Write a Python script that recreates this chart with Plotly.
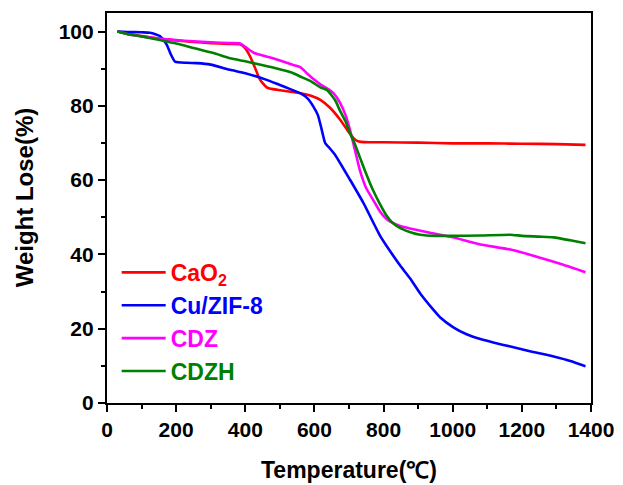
import plotly.graph_objects as go

# ---- data ----
cao2_T = [30, 60, 100, 150, 200, 250, 300, 350, 385, 400, 414, 430, 443, 462, 480, 501, 530, 559, 590, 617, 645, 675, 695, 713, 725, 735, 760, 800, 900, 1000, 1100, 1200, 1300, 1384]
cao2_W = [100, 99.4, 98.8, 98.1, 97.6, 97.2, 96.9, 96.7, 96.6, 95.5, 93.3, 89.8, 87, 85, 84.5, 84.2, 83.8, 83.4, 82.7, 81.6, 79.5, 76.2, 73.5, 71.3, 70.5, 70.3, 70.2, 70.2, 70.1, 69.9, 69.9, 69.8, 69.7, 69.5]

cuzif_T = [30, 60, 100, 124, 140, 153, 163, 173, 185, 197, 230, 260, 300, 356, 400, 462, 500, 530, 559, 580, 597, 610, 620, 631, 645, 660, 703, 742, 790, 829, 848, 877, 906, 945, 964, 1003, 1040, 1080, 1120, 1167, 1220, 1292, 1340, 1384]
cuzif_W = [100, 99.9, 99.8, 99.7, 99.3, 98.8, 97.8, 96.4, 93.8, 91.9, 91.6, 91.5, 91.1, 89.7, 88.8, 87, 85.6, 84.5, 83.4, 82, 79.8, 77.5, 74, 70, 68.5, 66.8, 60.1, 53.8, 45, 39.5, 37, 33.5, 29.5, 25, 23, 20.3, 18.5, 17.2, 16.2, 15.2, 14.0, 12.5, 11.3, 9.9]

cdz_T = [30, 60, 100, 150, 200, 250, 300, 356, 385, 424, 480, 539, 559, 578, 600, 617, 640, 655, 675, 690, 703, 718, 732, 750, 771, 790, 809, 819, 850, 900, 935, 964, 1000, 1080, 1167, 1250, 1320, 1384]
cdz_W = [100, 99.3, 98.7, 98.1, 97.7, 97.4, 97.1, 96.9, 96.8, 94.3, 92.8, 91, 90.4, 88.8, 87, 85.8, 84.5, 83.4, 80.7, 77.5, 73.5, 67.8, 62.5, 57.8, 54.5, 51.5, 49.5, 48.8, 47.6, 46.5, 45.8, 45.3, 44.6, 42.7, 41.3, 39.2, 37.2, 35.2]

cdzh_T = [30, 60, 100, 138, 173, 200, 250, 308, 356, 400, 424, 480, 539, 559, 590, 617, 636, 660, 675, 690, 703, 718, 732, 745, 758, 771, 790, 809, 825, 850, 880, 906, 950, 1000, 1080, 1167, 1200, 1250, 1292, 1340, 1384]
cdzh_W = [100, 99.3, 98.7, 98.0, 97.3, 96.8, 95.6, 94.2, 92.8, 92.0, 91.5, 90.3, 88.8, 87.9, 86.6, 85, 84.3, 81.5, 78.5, 75.8, 72.7, 69.5, 66.0, 62.8, 59.8, 57.0, 53.5, 50.4, 48.6, 47.0, 45.9, 45.3, 45.0, 45.0, 45.1, 45.3, 45.0, 44.8, 44.6, 43.8, 43]

series = [
    ("CaO<sub>2</sub>", cao2_T, cao2_W, "#FF0000"),
    ("Cu/ZIF-8", cuzif_T, cuzif_W, "#0000FF"),
    ("CDZ", cdz_T, cdz_W, "#FF00FF"),
    ("CDZH", cdzh_T, cdzh_W, "#008000"),
]

x_ticks = [0, 200, 400, 600, 800, 1000, 1200, 1400]
y_ticks = [0, 20, 40, 60, 80, 100]

FONT = "Liberation Sans, Arial, sans-serif"

fig = go.Figure()
for i, (name, T, W, col) in enumerate(series):
    fig.add_trace(go.Scatter(
        x=T, y=W, mode="lines",
        name=f"<b><span style='color:{col}'>{name}</span></b>",
        legendgroup=f"g{i}",
        line=dict(color=col, width=2.6, shape="spline", smoothing=0.5),
    ))

axis_common = dict(
    showline=True, linecolor="black", linewidth=2.2, mirror=True,
    ticks="outside", tickcolor="black", tickwidth=2, ticklen=7,
    showgrid=False, zeroline=False, automargin=False,
    tickfont=dict(family=FONT, size=21, color="black"),
)

fig.update_layout(
    width=623, height=485,
    margin=dict(l=107, r=32, t=13, b=82),
    paper_bgcolor="white", plot_bgcolor="white",
    showlegend=True,
    legend=dict(
        x=0.02, y=0.39, xanchor="left", yanchor="top",
        bgcolor="rgba(0,0,0,0)", borderwidth=0,
        font=dict(family=FONT, size=23),
        tracegroupgap=0, itemwidth=44,
    ),
    xaxis=dict(
        range=[0, 1400], tickvals=x_ticks,
        ticktext=[f"<b>{v}</b>" for v in x_ticks],
        minor=dict(ticks="outside", dtick=100, ticklen=4, tickwidth=2, tickcolor="black"),
        title=dict(text="<b>Temperature(℃)</b>", standoff=22,
                   font=dict(family=FONT, size=23, color="black")),
        **axis_common,
    ),
    yaxis=dict(
        range=[0, 105], tickvals=y_ticks,
        ticktext=[f"<b>{v}</b>" for v in y_ticks],
        minor=dict(ticks="outside", dtick=10, ticklen=4, tickwidth=2, tickcolor="black"),
        **axis_common,
    ),
    annotations=[dict(
        text="<b>Weight Lose(%)</b>", textangle=-90, showarrow=False,
        xref="paper", yref="paper", x=-0.171, y=0.528,
        xanchor="center", yanchor="middle",
        font=dict(family=FONT, size=24, color="black"),
    )],
)

fig.write_html("out.html", config={"displayModeBar": False},
               post_script="document.body.style.margin='0';")
